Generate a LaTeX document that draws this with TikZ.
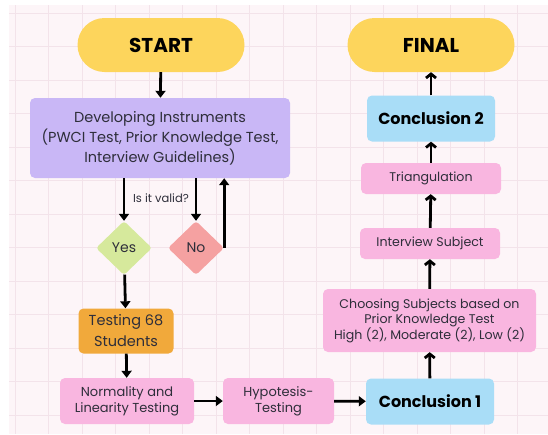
\documentclass[tikz,border=0pt]{standalone}
\usepackage{fontspec}
\setmainfont{Poppins}
\usetikzlibrary{shapes.geometric,arrows.meta}

\definecolor{bgpink}{HTML}{FDF5F8}
\definecolor{gridpink}{HTML}{F3E3EA}
\definecolor{pillyellow}{HTML}{FDD55C}
\definecolor{devpurple}{HTML}{C9B7F6}
\definecolor{yesgreen}{HTML}{D6E99C}
\definecolor{nored}{HTML}{F5A1A1}
\definecolor{testorange}{HTML}{F1A93B}
\definecolor{steppink}{HTML}{F9B6E0}
\definecolor{concblue}{HTML}{A9DDF7}
\definecolor{txtgrey}{HTML}{2E2E3A}

\begin{document}
\begin{tikzpicture}[x=1pt,y=-1pt,
  pill/.style={rectangle,rounded corners=27pt,fill=pillyellow,minimum width=167pt,minimum height=54pt,
    font=\fontsize{20}{22}\selectfont\bfseries},
  box/.style={rectangle,rounded corners=5pt,inner sep=2pt,align=center,text=txtgrey,
    font=\fontsize{12.6}{15}\selectfont},
  conc/.style={rectangle,rounded corners=5pt,fill=concblue,minimum width=128pt,minimum height=46pt,
    font=\fontsize{16}{18}\selectfont\bfseries},
  choice/.style={diamond,rounded corners=3pt,inner sep=0pt,minimum width=56pt,minimum height=54pt,
    text=txtgrey,font=\fontsize{14}{16}\selectfont},
  arr/.style={line width=2.8pt,-{Triangle[length=7pt,width=10pt]}},
  uparr/.style={line width=2.8pt,-{Straight Barb[length=4pt,width=10pt]}}]

 \useasboundingbox (0,0) rectangle (548,434);

 % background and grid
 \fill[white] (0,0) rectangle (548,434);
 \fill[bgpink] (9,5) rectangle (548,434);
 \foreach \gx in {15,48.5,...,548} \draw[gridpink,line width=0.7pt] (\gx,5) -- (\gx,434);
 \foreach \gy in {13,46.5,...,434} \draw[gridpink,line width=0.7pt] (9,\gy) -- (548,\gy);

 % left column
 \node[pill] (start) at (161,45) {START};
 \node[box,fill=devpurple,minimum width=260pt,minimum height=80pt,font=\fontsize{14.5}{20}\selectfont] (dev) at (160,138)
   {Developing Instruments\\(PWCI Test, Prior Knowledge Test,\\Interview Guidelines)};
 \node[font=\fontsize{11.5}{13}\selectfont,text=txtgrey] (valid) at (161,198) {Is it valid?};
 \node[choice,fill=yesgreen] (yes) at (124,248) {Yes};
 \node[choice,fill=nored] (no) at (196,248) {No};
 \node[box,fill=testorange,minimum width=95pt,minimum height=45pt,font=\fontsize{14.5}{21}\selectfont] (test) at (126,331)
   {Testing 68\\Students};
 \node[box,fill=steppink,minimum width=134pt,minimum height=46pt,font=\fontsize{13}{16}\selectfont] (norm) at (127,401)
   {Normality and\\Linearity Testing};
 \node[box,fill=steppink,minimum width=111pt,minimum height=46pt,font=\fontsize{13}{16}\selectfont] (hypo) at (278.5,401)
   {Hypotesis-\\Testing};

 % right column
 \node[conc] (conc1) at (430,401.5) {Conclusion 1};
 \node[box,fill=steppink,minimum width=213pt,minimum height=63pt] (choose) at (429.5,320.5)
   {Choosing Subjects based on\\Prior Knowledge Test\\High (2), Moderate (2), Low (2)};
 \node[box,fill=steppink,minimum width=140pt,minimum height=31pt] (interview) at (430,243.5) {Interview Subject};
 \node[box,fill=steppink,minimum width=140pt,minimum height=31pt] (triang) at (431,178.5) {Triangulation};
 \node[conc] (conc2) at (431,118.5) {Conclusion 2};
 \node[pill] (final) at (431,45) {FINAL};

 % connectors
 \draw[arr] (start) -- (dev);
 \draw[arr] (dev.south -| yes) -- (yes.north);
 \draw[arr] (dev.south -| no) -- (no.north);
 \draw[arr] (no.east) -- (no.east |- dev.south);
 \draw[arr] (yes) -- (test);
 \draw[arr] (test) -- (norm);
 \draw[arr] (norm) -- (hypo);
 \draw[arr] (hypo) -- (conc1);

 \draw[uparr] (conc1) -- (choose);
 \draw[uparr] (choose) -- (interview);
 \draw[uparr] (interview) -- (triang);
 \draw[uparr] (triang) -- (conc2);
 \draw[uparr] (conc2) -- (final);
\end{tikzpicture}
\end{document}
